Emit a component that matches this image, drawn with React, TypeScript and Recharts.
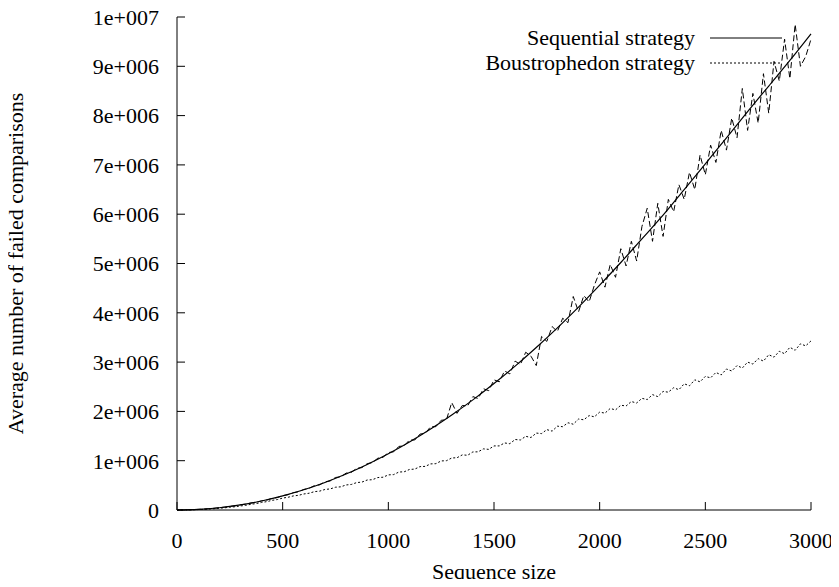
import React from 'react';
import { LineChart, Line, XAxis, YAxis, Legend } from 'recharts';

// sample sizes of the measured runs (step 25)
const sizes = [
  0, 25, 50, 75, 100, 125, 150, 175, 200, 225,
  250, 275, 300, 325, 350, 375, 400, 425, 450, 475,
  500, 525, 550, 575, 600, 625, 650, 675, 700, 725,
  750, 775, 800, 825, 850, 875, 900, 925, 950, 975,
  1000, 1025, 1050, 1075, 1100, 1125, 1150, 1175, 1200, 1225,
  1250, 1275, 1300, 1325, 1350, 1375, 1400, 1425, 1450, 1475,
  1500, 1525, 1550, 1575, 1600, 1625, 1650, 1675, 1700, 1725,
  1750, 1775, 1800, 1825, 1850, 1875, 1900, 1925, 1950, 1975,
  2000, 2025, 2050, 2075, 2100, 2125, 2150, 2175, 2200, 2225,
  2250, 2275, 2300, 2325, 2350, 2375, 2400, 2425, 2450, 2475,
  2500, 2525, 2550, 2575, 2600, 2625, 2650, 2675, 2700, 2725,
  2750, 2775, 2800, 2825, 2850, 2875, 2900, 2925, 2950, 2975,
  3000,
];

// sequential strategy, measured (millions)
const sequentialRawM = [
  0, 0.001, 0.003, 0.006, 0.012, 0.017, 0.027, 0.034, 0.048, 0.057,
  0.073, 0.084, 0.106, 0.118, 0.143, 0.157, 0.186, 0.202, 0.236, 0.252,
  0.291, 0.309, 0.352, 0.37, 0.418, 0.438, 0.495, 0.51, 0.572, 0.59,
  0.66, 0.672, 0.748, 0.762, 0.845, 0.86, 0.94, 0.962, 1.05, 1.07,
  1.165, 1.18, 1.29, 1.3, 1.42, 1.42, 1.54, 1.555, 1.69, 1.69,
  1.82, 1.83, 2.18, 1.96, 2.12, 2.11, 2.3, 2.26, 2.46, 2.42,
  2.64, 2.6, 2.82, 2.76, 3.02, 2.95, 3.2, 3.12, 2.93, 3.52,
  3.42, 3.72, 3.62, 3.89, 3.8, 4.33, 4.02, 4.35, 4.22, 4.56,
  4.83, 4.52, 4.98, 4.72, 5.3, 4.95, 5.45, 5.05, 5.75, 6.12,
  5.45, 6.22, 5.55, 6.3, 6.05, 6.6, 6.3, 6.85, 6.5, 7.2,
  6.8, 7.4, 7.05, 7.7, 7.3, 7.95, 7.55, 8.55, 7.7, 8.45,
  7.85, 8.85, 8.05, 9.1, 8.7, 9.55, 8.75, 9.85, 9.0, 9.2,
  9.55,
];

// boustrophedon strategy, measured (millions)
const boustrophedonM = [
  0, 0.001, 0.003, 0.005, 0.009, 0.013, 0.019, 0.026, 0.036, 0.044,
  0.057, 0.066, 0.082, 0.094, 0.116, 0.13, 0.153, 0.17, 0.196, 0.212,
  0.242, 0.258, 0.285, 0.298, 0.325, 0.34, 0.372, 0.383, 0.416, 0.428,
  0.462, 0.47, 0.508, 0.518, 0.556, 0.566, 0.608, 0.615, 0.658, 0.665,
  0.712, 0.718, 0.77, 0.775, 0.822, 0.83, 0.88, 0.885, 0.935, 0.94,
  0.995, 1.0, 1.055, 1.06, 1.118, 1.11, 1.178, 1.18, 1.24, 1.23,
  1.3, 1.3, 1.36, 1.345, 1.43, 1.42, 1.495, 1.47, 1.56, 1.55,
  1.63, 1.6, 1.7, 1.69, 1.77, 1.74, 1.845, 1.83, 1.915, 1.89,
  1.985, 1.965, 2.06, 2.03, 2.125, 2.11, 2.2, 2.17, 2.265, 2.24,
  2.34, 2.3, 2.405, 2.39, 2.48, 2.44, 2.56, 2.52, 2.64, 2.6,
  2.71, 2.68, 2.79, 2.74, 2.86, 2.82, 2.93, 2.88, 3.0, 2.96,
  3.07, 3.02, 3.15, 3.1, 3.22, 3.17, 3.3, 3.24, 3.37, 3.33,
  3.43,
];

// smooth sequential curve (millions), every 100
const fitSizes = [
  0, 100, 200, 300, 400, 500, 600, 700, 800, 900, 1000,
  1100, 1200, 1300, 1400, 1500, 1600, 1700, 1800, 1900, 2000,
  2100, 2200, 2300, 2400, 2500, 2600, 2700, 2800, 2900, 3000,
];
const sequentialFitM = [
  0, 0.011, 0.046, 0.103, 0.182, 0.285, 0.41, 0.559, 0.73, 0.923, 1.14,
  1.379, 1.642, 1.927, 2.234, 2.565, 2.918, 3.295, 3.694, 4.115, 4.56,
  5.02, 5.5, 5.98, 6.5, 7.02, 7.55, 8.08, 8.6, 9.12, 9.66,
];

const xTicks = [0, 500, 1000, 1500, 2000, 2500, 3000];
const yTicks = [0, 1e6, 2e6, 3e6, 4e6, 5e6, 6e6, 7e6, 8e6, 9e6, 1e7];
const legendLabels = ['Sequential strategy', 'Boustrophedon strategy'];
const xTitle = 'Sequence size';
const yTitle = 'Average number of failed comparisons';

const fitBySize = new Map(fitSizes.map((s, i) => [s, sequentialFitM[i] * 1e6]));
const data = sizes.map((x, i) => ({
  x,
  fit: fitBySize.has(x) ? fitBySize.get(x) : null,
  raw: sequentialRawM[i] * 1e6,
  bous: boustrophedonM[i] * 1e6,
}));

const FONT = "'Liberation Serif', 'Times New Roman', 'DejaVu Serif', Times, serif";
const ink = { stroke: '#000', strokeWidth: 1 };
const tickText = { fill: '#000', fontSize: 22, fontFamily: FONT, style: { fontFamily: FONT } };

function sci(v: number) {
  if (v === 0) return '0';
  const exp = Math.floor(Math.log10(v) + 1e-9);
  const m = Math.round(v / Math.pow(10, exp));
  return `${m}e+${String(exp).padStart(3, '0')}`;
}

function XTitle() {
  return (
    <text x={494} y={579} textAnchor="middle" fontSize={22} style={{ fontFamily: FONT }} fill="#000">
      {xTitle}
    </text>
  );
}

function YTitle() {
  return (
    <text x={23} y={263.5} transform="rotate(-90 23 263.5)" textAnchor="middle" fontSize={22} style={{ fontFamily: FONT }} fill="#000">
      {yTitle}
    </text>
  );
}

function Key() {
  const rows = [
    { label: legendLabels[0], dash: undefined, y: 38 },
    { label: legendLabels[1], dash: '2 2', y: 63 },
  ];
  return (
    <svg width={839} height={587} style={{ position: 'absolute', left: 0, top: 0, pointerEvents: 'none' }}>
      {rows.map((r) => (
        <g key={r.label}>
          <text x={695} y={r.y + 7} textAnchor="end" fontSize={22} style={{ fontFamily: FONT }} fill="#000">
            {r.label}
          </text>
          <line x1={710} x2={782} y1={r.y} y2={r.y} stroke="#000" strokeWidth={1} strokeDasharray={r.dash} />
        </g>
      ))}
    </svg>
  );
}

export default function App() {
  return (
    <div style={{ margin: -8, fontFamily: FONT }}>
      <LineChart width={839} height={587} data={data} margin={{ top: 17, right: 28, bottom: 0, left: 0 }} style={{ fontFamily: FONT }}>
        <XAxis
          xAxisId="b"
          dataKey="x"
          type="number"
          domain={[0, 3000]}
          ticks={xTicks}
          interval={0}
          height={77}
          tickSize={-8}
          tickMargin={30}
          axisLine={ink}
          tickLine={ink}
          tick={tickText}
          label={<XTitle />}
        />
        <XAxis
          xAxisId="t"
          orientation="top"
          dataKey="x"
          type="number"
          domain={[0, 3000]}
          ticks={xTicks}
          interval={0}
          height={0}
          tickSize={-8}
          axisLine={ink}
          tickLine={ink}
          tick={false}
        />
        <YAxis
          yAxisId="l"
          type="number"
          domain={[0, 1e7]}
          ticks={yTicks}
          interval={0}
          width={177}
          tickSize={-8}
          tickMargin={26}
          axisLine={ink}
          tickLine={ink}
          tick={tickText}
          tickFormatter={sci}
          label={<YTitle />}
        />
        <YAxis
          yAxisId="r"
          orientation="right"
          type="number"
          domain={[0, 1e7]}
          ticks={yTicks}
          interval={0}
          width={0}
          tickSize={-8}
          axisLine={ink}
          tickLine={ink}
          tick={false}
        />
        <Line xAxisId="b" yAxisId="l" type="linear" dataKey="raw" stroke="#000" strokeWidth={1} strokeDasharray="6 3" dot={false} legendType="none" isAnimationActive={false} />
        <Line xAxisId="b" yAxisId="l" type="monotone" dataKey="fit" connectNulls stroke="#000" strokeWidth={1.2} dot={false} isAnimationActive={false} />
        <Line xAxisId="b" yAxisId="l" type="linear" dataKey="bous" stroke="#000" strokeWidth={1} strokeDasharray="2 2" dot={false} isAnimationActive={false} />
        <Legend
          layout="vertical"
          align="center"
          verticalAlign="middle"
          content={() => <Key />}
          wrapperStyle={{ left: 0, top: 0, width: 0, height: 0 }}
        />
      </LineChart>
    </div>
  );
}
